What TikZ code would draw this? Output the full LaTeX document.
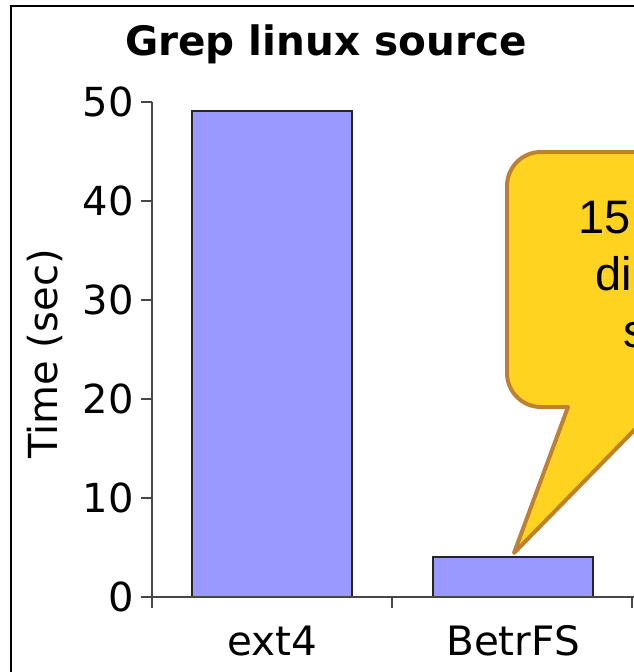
\documentclass[tikz,border=0pt]{standalone}
\usepackage{fontspec}
\setmainfont{DejaVu Sans}
\newfontfamily\callfont{Liberation Sans}
\definecolor{barfill}{RGB}{153,153,255}
\definecolor{calloutfill}{RGB}{255,211,32}
\definecolor{calloutedge}{RGB}{190,129,46}
\definecolor{axisgray}{RGB}{70,70,70}
\tikzset{
  bar/.style={draw=black!85, line width=1.3pt, fill=barfill},
  axisline/.style={draw=axisgray, line width=1.4pt},
  ticklabel/.style={font=\fontsize{40}{40}\selectfont, inner sep=0pt, anchor=base east},
  catlabel/.style={font=\fontsize{40.5}{40.5}\selectfont, inner sep=0pt, anchor=base},
  calltext/.style={font=\callfont\fontsize{47}{47}\selectfont, inner sep=0pt, anchor=base west},
}
\begin{document}
\begin{tikzpicture}[x=1pt,y=-1pt]
  \useasboundingbox (0,0) rectangle (634,672);
  \clip (0,0) rectangle (634,672);
  \fill[white] (0,0) rectangle (634,672);

  % chart frame (top and left edges)
  \draw[black, line width=2pt] (11,672) -- (11,6) -- (640,6);

  % title
  \node[font=\bfseries\fontsize{40.5}{40.5}\selectfont, inner sep=0pt, anchor=base] (title) at (326,55) {Grep linux source};

  % bars
  \draw[bar] (192,597) rectangle (352,111);
  \draw[bar] (433,597) rectangle (593,557);
  \coordinate (ext4top) at (272,111);
  \coordinate (betrtop) at (514,555);

  % y axis with ticks
  \draw[axisline] (152,102) -- (152,608);
  \foreach \v in {0,10,...,50} {
    \draw[axisline] (141,{597-9.9*\v}) -- (152,{597-9.9*\v});
    \node[ticklabel] (tick\v) at (134,{597-9.9*\v+14.6}) {\v};
  }
  % x axis with ticks
  \draw[axisline] (141,597) -- (640,597);
  \foreach \x in {152,392,632} {
    \draw[axisline] (\x,597) -- (\x,608);
  }
  \node[catlabel] (lblext) at (272,655) {ext4};
  \node[catlabel] (lblbetr) at (513,655) {BetrFS};
  \node[rotate=90, font=\fontsize{40}{40}\selectfont, inner sep=0pt] (ylabel) at (45,354) {Time (sec)};

  % speech-bubble callout pointing at the BetrFS bar
  \coordinate (tip) at (514,553);
  \draw[line width=4pt, draw=calloutedge, fill=calloutfill, line join=round]
    (568,407) -- (tip) -- (700,363) -- (700,152)
    [rounded corners=34pt] -- (507,152) -- (507,407) [sharp corners] -- (568,407) -- cycle;
  \node[calltext] (c1) at (578,233) {15};
  \node[calltext] (c2) at (595,290) {di};
  \node[calltext] (c3) at (623,347) {s};
\end{tikzpicture}
\end{document}
